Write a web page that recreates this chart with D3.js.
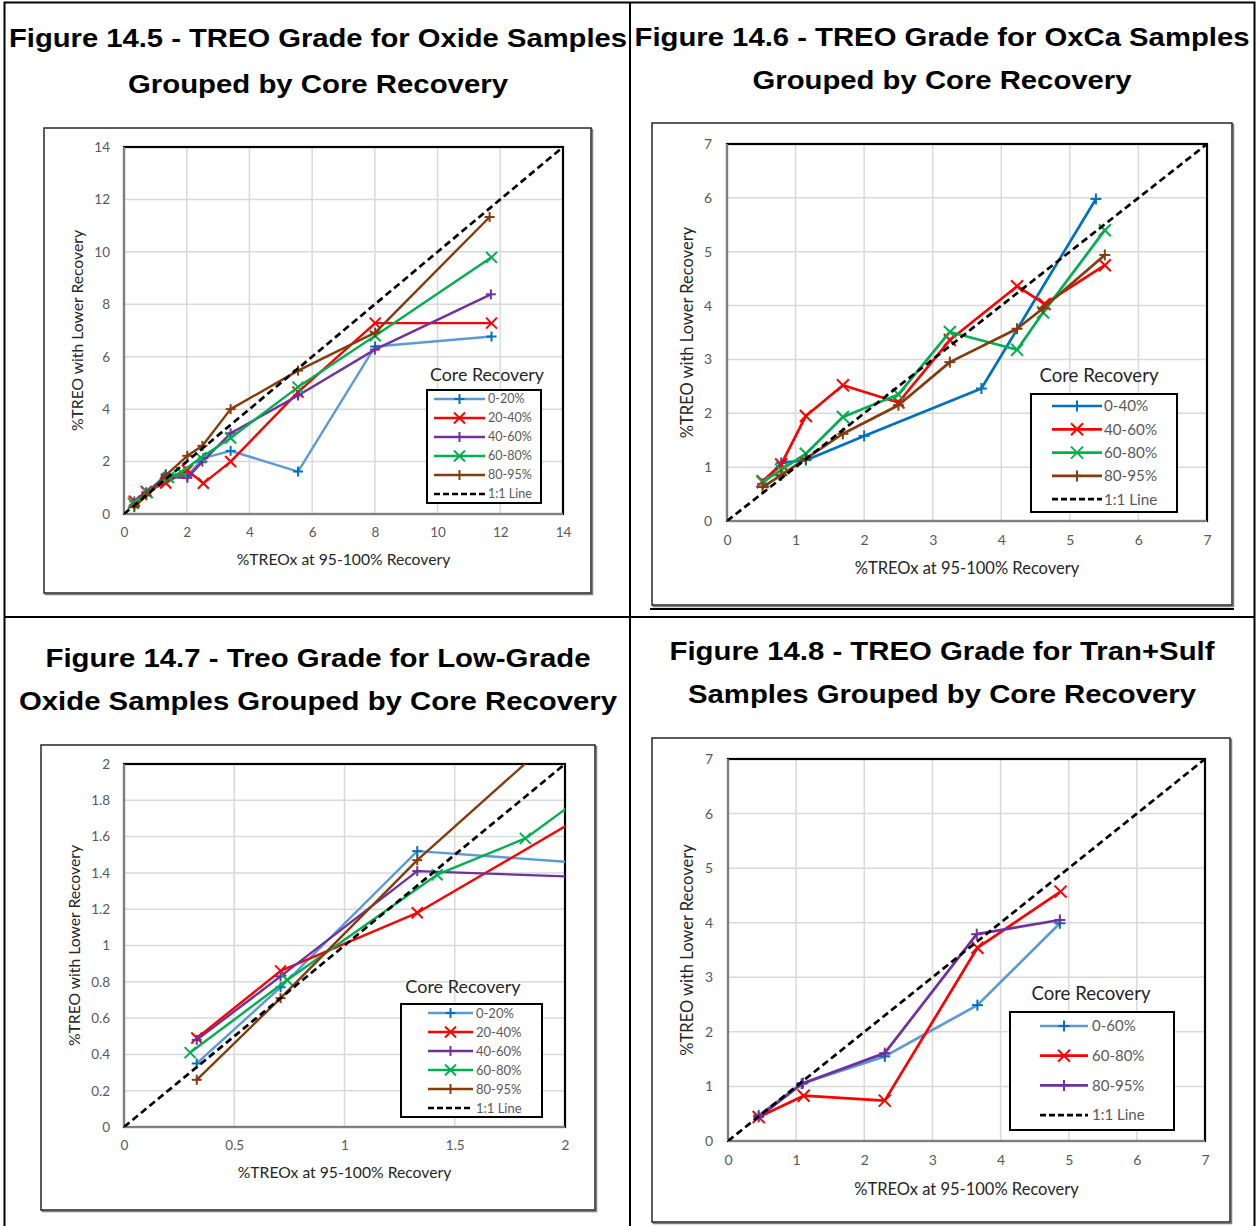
<!DOCTYPE html>
<html><head><meta charset="utf-8">
<script src="https://cdn.jsdelivr.net/npm/d3@7"></script>
<style>body{margin:0;background:#fff;} svg{display:block;}</style>
</head><body>
<svg id="c" width="1259" height="1226"></svg>
<script>
// ---------------- DATA ----------------
// Figure 14.5 (Oxide) — also shown zoomed as Figure 14.7 (Low-Grade Oxide)
const oxNames = ["0-20%", "20-40%", "40-60%", "60-80%", "80-95%"];
const ox_0_20  = [[0.33,0.35],[0.71,0.77],[1.33,1.52],[2.02,1.46],[2.53,2.13],[3.40,2.41],[5.55,1.62],[8.01,6.39],[11.72,6.77]];
const ox_20_40 = [[0.33,0.49],[0.71,0.86],[1.33,1.18],[2.02,1.67],[2.53,1.17],[3.40,2.00],[5.55,4.65],[8.01,7.28],[11.72,7.28]];
const ox_40_60 = [[0.33,0.48],[0.71,0.83],[1.33,1.41],[2.02,1.38],[2.50,2.00],[3.40,3.08],[5.55,4.52],[8.00,6.27],[11.70,8.38]];
const ox_60_80 = [[0.30,0.41],[0.74,0.81],[1.42,1.39],[1.82,1.59],[2.45,2.15],[3.40,2.90],[5.55,4.84],[8.01,6.80],[11.72,9.79]];
const ox_80_95 = [[0.33,0.26],[0.71,0.71],[1.33,1.47],[2.02,2.22],[2.50,2.60],[3.40,4.00],[5.55,5.47],[8.01,6.92],[11.66,11.33]];

// Figure 14.6 (OxCa)
const oxcaNames = ["0-40%", "40-60%", "60-80%", "80-95%"];
const oxca_0_40  = [[0.52,0.69],[0.79,1.08],[1.15,1.13],[2.00,1.58],[3.71,2.46],[5.38,5.98]];
const oxca_40_60 = [[0.52,0.74],[0.79,1.05],[1.15,1.95],[1.69,2.52],[2.50,2.20],[3.25,3.36],[4.23,4.36],[4.63,4.03],[5.51,4.75]];
const oxca_60_80 = [[0.52,0.72],[0.79,0.95],[1.15,1.25],[1.69,1.93],[2.50,2.35],[3.25,3.51],[4.23,3.18],[4.61,3.87],[5.51,5.40]];
const oxca_80_95 = [[0.52,0.63],[0.79,0.85],[1.15,1.16],[1.69,1.62],[2.50,2.15],[3.25,2.95],[4.23,3.57],[4.61,3.95],[5.51,4.94]];

// Figure 14.8 (Tran+Sulf)
const tsNames = ["0-60%", "60-80%", "80-95%"];
const ts_0_60  = [[0.45,0.47],[1.08,1.05],[2.30,1.55],[3.66,2.49],[4.87,3.99]];
const ts_60_80 = [[0.45,0.44],[1.11,0.83],[2.30,0.74],[3.66,3.54],[4.88,4.57]];
const ts_80_95 = [[0.45,0.44],[1.10,1.06],[2.30,1.61],[3.65,3.79],[4.87,4.05]];

// Tick labels
const ticks145 = [0, 2, 4, 6, 8, 10, 12, 14];
const ticks146 = [0, 1, 2, 3, 4, 5, 6, 7];
const ticks147x = [0, 0.5, 1, 1.5, 2];
const ticks147y = [0, 0.2, 0.4, 0.6, 0.8, 1, 1.2, 1.4, 1.6, 1.8, 2];
const ticks148 = [0, 1, 2, 3, 4, 5, 6, 7];

// Text
const title145 = ["Figure 14.5 - TREO Grade for Oxide Samples", "Grouped by Core Recovery"];
const title146 = ["Figure 14.6 - TREO Grade for OxCa Samples", "Grouped by Core Recovery"];
const title147 = ["Figure 14.7 - Treo Grade for Low-Grade", "Oxide Samples Grouped by Core Recovery"];
const title148 = ["Figure 14.8 - TREO Grade for Tran+Sulf", "Samples Grouped by Core Recovery"];
const xTitle = "%TREOx at 95-100% Recovery";
const yTitle = "%TREO with Lower Recovery";
const legendTitle = "Core Recovery";
const oneToOne = "1:1 Line";

// ---------------- DRAW ----------------
const svg = d3.select("#c");
const FONT = "Lato, 'Open Sans', sans-serif";

// table frame
const frame = svg.append("g").attr("stroke", "#000").attr("fill", "none");
frame.append("rect").attr("x", 4.5).attr("y", 2.5).attr("width", 1250).attr("height", 1240).attr("stroke-width", 2);
frame.append("line").attr("x1", 630).attr("x2", 630).attr("y1", 2).attr("y2", 1226).attr("stroke-width", 2);
frame.append("line").attr("x1", 4).attr("x2", 1255).attr("y1", 617).attr("y2", 617).attr("stroke-width", 2);

function titleLine(text, cx, y, width) {
  svg.append("text").attr("x", cx).attr("y", y).attr("text-anchor", "middle")
    .attr("font-family", "'Liberation Sans', Arial, sans-serif").attr("font-weight", "bold")
    .attr("font-size", 26).attr("fill", "#000")
    .attr("textLength", width).attr("lengthAdjust", "spacingAndGlyphs").text(text);
}
titleLine(title145[0], 318, 47, 618); titleLine(title145[1], 318, 93, 380);
titleLine(title146[0], 942, 46, 615); titleLine(title146[1], 942, 89, 379);
titleLine(title147[0], 318, 667, 545); titleLine(title147[1], 318, 710, 598);
titleLine(title148[0], 942, 660, 545); titleLine(title148[1], 942, 703, 508);

function marker(g, type, x, y, color, s, w) {
  const m = g.append("g").attr("stroke", color).attr("stroke-width", w).attr("fill", "none");
  if (type === "+") {
    m.append("line").attr("x1", x - s).attr("x2", x + s).attr("y1", y).attr("y2", y);
    m.append("line").attr("x1", x).attr("x2", x).attr("y1", y - s).attr("y2", y + s);
  } else {
    m.append("line").attr("x1", x - s).attr("x2", x + s).attr("y1", y - s).attr("y2", y + s);
    m.append("line").attr("x1", x - s).attr("x2", x + s).attr("y1", y + s).attr("y2", y - s);
  }
}

let clipId = 0;
function panel(cfg) {
  const g = svg.append("g");
  // chart box
  g.append("rect").attr("x", cfg.box[0] + 1.5).attr("y", cfg.box[1] + 1.5).attr("width", cfg.box[2]).attr("height", cfg.box[3])
    .attr("fill", "none").attr("stroke", "#7f7f7f").attr("stroke-width", 1.5);
  g.append("rect").attr("x", cfg.box[0]).attr("y", cfg.box[1]).attr("width", cfg.box[2]).attr("height", cfg.box[3])
    .attr("fill", "#fff").attr("stroke", "#262626").attr("stroke-width", 1.5);
  if (cfg.doubleLine) {
    g.append("line").attr("x1", cfg.box[0] - 2).attr("x2", cfg.box[0] + cfg.box[2] + 2)
      .attr("y1", cfg.box[1] + cfg.box[3] + 4).attr("y2", cfg.box[1] + cfg.box[3] + 4)
      .attr("stroke", "#000").attr("stroke-width", 2);
  }
  const [L, T, R, B] = cfg.plot;
  const x = d3.scaleLinear().domain(cfg.domain).range([L, R]);
  const y = d3.scaleLinear().domain(cfg.domain).range([B, T]);
  // grid
  const grid = g.append("g").attr("stroke", "#d9d9d9").attr("stroke-width", 1.5);
  cfg.xticks.forEach(t => grid.append("line").attr("x1", x(t)).attr("x2", x(t)).attr("y1", T).attr("y2", B));
  cfg.yticks.forEach(t => grid.append("line").attr("x1", L).attr("x2", R).attr("y1", y(t)).attr("y2", y(t)));
  // plot border
  g.append("rect").attr("x", L).attr("y", T).attr("width", R - L).attr("height", B - T)
    .attr("fill", "none").attr("stroke", "#000").attr("stroke-width", 2.2);
  g.append("line").attr("x1", L).attr("x2", L).attr("y1", T).attr("y2", B).attr("stroke", "#7f7f7f").attr("stroke-width", 2);
  g.append("line").attr("x1", L).attr("x2", R).attr("y1", B).attr("y2", B).attr("stroke", "#7f7f7f").attr("stroke-width", 2);
  // axes
  const fmt = d => String(d);
  const ax = g.append("g").attr("transform", `translate(0,${B})`)
    .call(d3.axisBottom(x).tickValues(cfg.xticks).tickSize(0).tickPadding(cfg.xPad).tickFormat(fmt));
  const ay = g.append("g").attr("transform", `translate(${L},0)`)
    .call(d3.axisLeft(y).tickValues(cfg.yticks).tickSize(0).tickPadding(cfg.yPad).tickFormat(fmt));
  [ax, ay].forEach(a => {
    a.select(".domain").remove();
    a.selectAll("text").attr("font-family", FONT).attr("font-size", cfg.tickFont).attr("fill", "#595959");
  });
  // axis titles
  g.append("text").attr("x", (L + R) / 2).attr("y", cfg.xTitleY).attr("text-anchor", "middle")
    .attr("font-family", FONT).attr("font-size", cfg.axFont).attr("fill", "#262626").text(xTitle);
  g.append("text").attr("transform", `translate(${cfg.yTitleX},${(T + B) / 2}) rotate(-90)`).attr("text-anchor", "middle")
    .attr("font-family", FONT).attr("font-size", cfg.axFont).attr("fill", "#262626").text(yTitle);
  // series
  const id = "clip" + (clipId++);
  g.append("clipPath").attr("id", id).append("rect").attr("x", L).attr("y", T).attr("width", R - L).attr("height", B - T);
  const data = g.append("g").attr("clip-path", `url(#${id})`);
  const line = d3.line().x(d => x(d[0])).y(d => y(d[1]));
  cfg.series.forEach(s => {
    data.append("path").datum(s.values).attr("d", line).attr("fill", "none")
      .attr("stroke", s.color).attr("stroke-width", cfg.lw).attr("stroke-linejoin", "round");
    s.values.forEach(v => {
      if (v[0] <= cfg.domain[1] && v[1] <= cfg.domain[1])
        marker(data, s.mk, x(v[0]), y(v[1]), s.mcolor || s.color, s.mk === "+" ? cfg.ms : cfg.ms + 0.5, 2);
    });
  });
  data.append("path").datum([[0, 0], [cfg.domain[1], cfg.domain[1]]]).attr("d", line)
    .attr("fill", "none").attr("stroke", "#000").attr("stroke-width", 2.7).attr("stroke-dasharray", "7,4");
  // legend
  const lg = cfg.legend;
  g.append("text").attr("x", lg.titleX).attr("y", lg.titleY).attr("text-anchor", "middle")
    .attr("font-family", FONT).attr("font-size", lg.titleFont).attr("fill", "#262626").text(legendTitle);
  g.append("rect").attr("x", lg.box[0]).attr("y", lg.box[1]).attr("width", lg.box[2]).attr("height", lg.box[3])
    .attr("fill", "#fff").attr("stroke", "#000").attr("stroke-width", 2);
  const rows = cfg.series.map(s => ({ name: s.name, color: s.color, mk: s.mk, mcolor: s.mcolor || s.color }))
    .concat([{ name: oneToOne, color: "#000", dash: true }]);
  rows.forEach((r, i) => {
    const yy = lg.row0 + i * lg.dy;
    g.append("line").attr("x1", lg.x0).attr("x2", lg.x1).attr("y1", yy).attr("y2", yy)
      .attr("stroke", r.color).attr("stroke-width", r.dash ? 2.7 : cfg.lw)
      .attr("stroke-dasharray", r.dash ? "6,3" : null);
    if (!r.dash) marker(g, r.mk, (lg.x0 + lg.x1) / 2, yy, r.mcolor, r.mk === "+" ? cfg.ms : cfg.ms + 0.5, 2);
    g.append("text").attr("x", lg.tx).attr("y", yy).attr("dy", "0.35em")
      .attr("font-family", FONT).attr("font-size", lg.font).attr("fill", "#595959").text(r.name);
  });
}

const BLUE_L = "#5b9bd5", BLUE_D = "#0070c0", RED = "#ff0000", PURP = "#7030a0", GREEN = "#00b050", BROWN = "#843c0c";
const oxSeries = [
  { name: oxNames[0], values: ox_0_20, color: BLUE_L, mcolor: BLUE_D, mk: "+" },
  { name: oxNames[1], values: ox_20_40, color: RED, mk: "x" },
  { name: oxNames[2], values: ox_40_60, color: PURP, mk: "+" },
  { name: oxNames[3], values: ox_60_80, color: GREEN, mk: "x" },
  { name: oxNames[4], values: ox_80_95, color: BROWN, mk: "+" }
];

panel({
  box: [44, 128, 547, 465], plot: [124, 147, 563, 514], domain: [0, 14],
  xticks: ticks145, yticks: ticks145, xPad: 13, yPad: 14, tickFont: 13.5, axFont: 15.7,
  xTitleY: 565, yTitleX: 83, lw: 2.4, ms: 5,
  series: oxSeries,
  legend: { titleX: 487, titleY: 381, titleFont: 17.8, box: [427, 390, 114, 113], row0: 399, dy: 19, x0: 434, x1: 485, tx: 488, font: 12.5 }
});

panel({
  box: [652, 123, 580, 482], plot: [727, 144, 1207, 521], domain: [0, 7], doubleLine: true,
  xticks: ticks146, yticks: ticks146, xPad: 14, yPad: 15, tickFont: 14, axFont: 16.5,
  xTitleY: 574, yTitleX: 693, lw: 2.7, ms: 5.5,
  series: [
    { name: oxcaNames[0], values: oxca_0_40, color: BLUE_D, mk: "+" },
    { name: oxcaNames[1], values: oxca_40_60, color: RED, mk: "x" },
    { name: oxcaNames[2], values: oxca_60_80, color: GREEN, mk: "x" },
    { name: oxcaNames[3], values: oxca_80_95, color: BROWN, mk: "+" }
  ],
  legend: { titleX: 1099, titleY: 382, titleFont: 18.6, box: [1031, 394, 146, 118], row0: 406, dy: 23.3, x0: 1052, x1: 1102, tx: 1104, font: 15.2 }
});

panel({
  box: [41, 745, 554, 465], plot: [124, 764, 565, 1127], domain: [0, 2],
  xticks: ticks147x, yticks: ticks147y, xPad: 13, yPad: 14, tickFont: 13.5, axFont: 15.7,
  xTitleY: 1178, yTitleX: 80, lw: 2.4, ms: 5,
  series: oxSeries,
  legend: { titleX: 463, titleY: 993, titleFont: 18, box: [401, 1004, 141, 113], row0: 1013, dy: 19, x0: 428, x1: 473, tx: 476, font: 13 }
});

panel({
  box: [652, 738, 578, 484], plot: [728, 759, 1205, 1141], domain: [0, 7],
  xticks: ticks148, yticks: ticks148, xPad: 14, yPad: 15, tickFont: 14, axFont: 16.5,
  xTitleY: 1195, yTitleX: 693, lw: 2.7, ms: 5.5,
  series: [
    { name: tsNames[0], values: ts_0_60, color: BLUE_L, mcolor: BLUE_D, mk: "+" },
    { name: tsNames[1], values: ts_60_80, color: RED, mk: "x" },
    { name: tsNames[2], values: ts_80_95, color: PURP, mk: "+" }
  ],
  legend: { titleX: 1091, titleY: 1000, titleFont: 18.6, box: [1010, 1012, 164, 118], row0: 1026, dy: 29.7, x0: 1040, x1: 1088, tx: 1092, font: 15 }
});
</script>
</body></html>
